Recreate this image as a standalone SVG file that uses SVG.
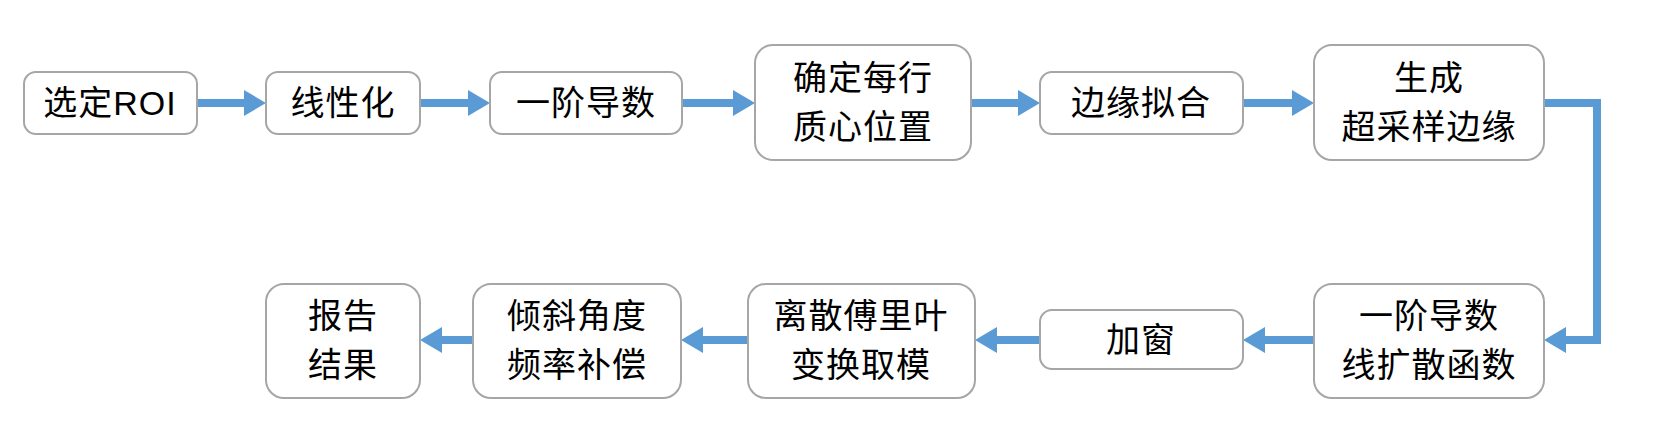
<svg xmlns="http://www.w3.org/2000/svg" width="1676" height="436" viewBox="0 0 1676 436">
<defs>
<style>
.box{fill:#fff;stroke:#a6a6a6;stroke-width:2}
.t{font-family:"Liberation Sans","Noto Sans CJK SC",sans-serif;font-size:34px;fill:#000;text-anchor:middle;dominant-baseline:central;letter-spacing:1px}
.c{fill:none;stroke:#5b9bd5;stroke-width:8}
</style>
<marker id="ah" viewBox="0 0 22 26" markerWidth="22" markerHeight="26" refX="2" refY="13" orient="auto" markerUnits="userSpaceOnUse">
<path d="M0,0 L22,13 L0,26 z" fill="#5b9bd5"/>
</marker>
</defs>
<rect width="1676" height="436" fill="#fff"/>
<g id="connectors">
<line class="c" x1="197" y1="103" x2="246" y2="103" marker-end="url(#ah)"/>
<line class="c" x1="420" y1="103" x2="470" y2="103" marker-end="url(#ah)"/>
<line class="c" x1="682" y1="103" x2="735" y2="103" marker-end="url(#ah)"/>
<line class="c" x1="971" y1="103" x2="1020" y2="103" marker-end="url(#ah)"/>
<line class="c" x1="1243" y1="103" x2="1294" y2="103" marker-end="url(#ah)"/>
<polyline class="c" points="1544,103 1597,103 1597,340 1564,340" marker-end="url(#ah)"/>
<line class="c" x1="1314" y1="340" x2="1263" y2="340" marker-end="url(#ah)"/>
<line class="c" x1="1040" y1="340" x2="995" y2="340" marker-end="url(#ah)"/>
<line class="c" x1="748" y1="340" x2="701" y2="340" marker-end="url(#ah)"/>
<line class="c" x1="473" y1="340" x2="440" y2="340" marker-end="url(#ah)"/>
</g>
<g id="n1"><rect class="box" x="24" y="72" width="173" height="62" rx="12"/><text class="t" x="110" y="103">选定ROI</text></g>
<g id="n2"><rect class="box" x="266" y="72" width="154" height="62" rx="12"/><text class="t" x="343" y="103">线性化</text></g>
<g id="n3"><rect class="box" x="490" y="72" width="192" height="62" rx="12"/><text class="t" x="586" y="103">一阶导数</text></g>
<g id="n4"><rect class="box" x="755" y="45" width="216" height="115" rx="18"/><text class="t" x="863" y="78">确定每行</text><text class="t" x="863" y="127">质心位置</text></g>
<g id="n5"><rect class="box" x="1040" y="72" width="203" height="62" rx="12"/><text class="t" x="1141" y="103">边缘拟合</text></g>
<g id="n6"><rect class="box" x="1314" y="45" width="230" height="115" rx="18"/><text class="t" x="1429" y="78">生成</text><text class="t" x="1429" y="127">超采样边缘</text></g>
<g id="n7"><rect class="box" x="1314" y="284" width="230" height="114" rx="18"/><text class="t" x="1429" y="316">一阶导数</text><text class="t" x="1429" y="365">线扩散函数</text></g>
<g id="n8"><rect class="box" x="1040" y="310" width="203" height="59" rx="12"/><text class="t" x="1141" y="340">加窗</text></g>
<g id="n9"><rect class="box" x="748" y="284" width="227" height="114" rx="18"/><text class="t" x="861" y="316">离散傅里叶</text><text class="t" x="861" y="365">变换取模</text></g>
<g id="n10"><rect class="box" x="473" y="284" width="208" height="114" rx="18"/><text class="t" x="577" y="316">倾斜角度</text><text class="t" x="577" y="365">频率补偿</text></g>
<g id="n11"><rect class="box" x="266" y="284" width="154" height="114" rx="18"/><text class="t" x="343" y="316">报告</text><text class="t" x="343" y="365">结果</text></g>
</svg>
